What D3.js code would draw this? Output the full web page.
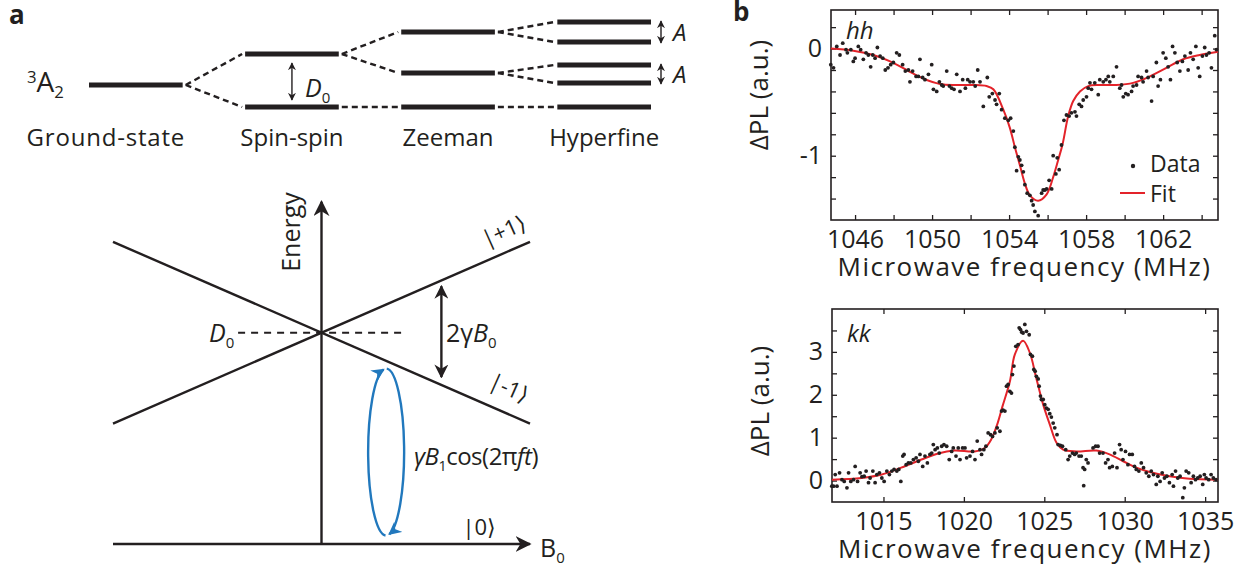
<!DOCTYPE html>
<html lang="en">
<head>
<meta charset="UTF-8">
<title>Spin levels and ODMR spectra</title>
<script src="https://d3js.org/d3.v7.min.js"></script>
<style>
  body { margin: 0; background: #fff; }
  svg text { font-family: "Open Sans", "DejaVu Sans", sans-serif; fill: #231f20; }
</style>
</head>
<body>
<div id="chart"></div>
<script>
// ---------- data: level scheme (top of panel a) ----------
const stages = ["Ground-state", "Spin-spin", "Zeeman", "Hyperfine"];
const levelEnergy = [[22], [0, 53], [0, 34, 75], [0, 24, 42, 65, 85]];
const levelParent = [[null], [0, 0], [0, 1, 1], [0, 1, 1, 2, 2]];

// ---------- data: energy vs field (bottom of panel a) ----------
const fieldRange = [-1, 1];
const plusOneE = [0.57, 1.43];   // |+1> at B=-1 and B=+1
const minusOneE = [1.43, 0.57];  // |-1>
const zeroFieldSplit = 1;        // D0
const splitArrow = {b: 0.575, e: [1.22, 0.79]};
const driveLoop = {b: 0.31, e: [0.04, 0.83]};

// ---------- data: hh spectrum ----------
const hhXDomain = [1044.75, 1064.85];
const hhYDomain = [-1.6, 0.36];
const hhXTicks = [1046, 1048, 1050, 1052, 1054, 1056, 1058, 1060, 1062, 1064];
const hhXLabels = [1046, 1050, 1054, 1058, 1062];
const hhYTicks = [-1.4, -1.2, -1, -0.8, -0.6, -0.4, -0.2, 0, 0.2];
const hhYLabels = [-1, 0];
const hhData = [
  [1044.74,-0.15],[1044.88,-0.18],[1045.05,0.02],[1045.22,-0.06],[1045.36,0.05],[1045.53,-0.01],
  [1045.60,-0.04],[1045.78,-0.01],[1045.91,-0.12],[1046.00,-0.09],[1046.17,0.02],[1046.29,-0.01],
  [1046.43,-0.10],[1046.57,-0.04],[1046.69,-0.06],[1046.81,-0.17],[1046.92,-0.06],[1047.04,-0.09],
  [1047.16,0.01],[1047.30,-0.07],[1047.44,-0.09],[1047.57,-0.20],[1047.71,-0.18],[1047.85,-0.15],
  [1047.99,-0.13],[1048.16,-0.04],[1048.30,-0.06],[1048.47,-0.15],[1048.61,-0.21],[1048.77,-0.20],
  [1048.85,-0.31],[1048.99,-0.21],[1049.17,-0.26],[1049.29,-0.26],[1049.37,-0.10],[1049.51,-0.27],
  [1049.63,-0.29],[1049.81,-0.24],[1049.98,-0.15],[1050.07,-0.38],[1050.24,-0.40],[1050.38,-0.31],
  [1050.50,-0.34],[1050.58,-0.35],[1050.76,-0.21],[1050.90,-0.35],[1051.02,-0.37],[1051.14,-0.38],
  [1051.28,-0.24],[1051.45,-0.40],[1051.59,-0.29],[1051.73,-0.37],[1051.85,-0.29],[1051.97,-0.31],
  [1052.14,-0.31],[1052.24,-0.35],[1052.37,-0.20],[1052.49,-0.31],[1052.66,-0.54],[1052.87,-0.27],
  [1052.97,-0.45],[1053.13,-0.42],[1053.27,-0.48],[1053.35,-0.52],[1053.49,-0.42],[1053.61,-0.57],
  [1053.78,-0.65],[1053.96,-0.67],[1054.08,-0.65],[1054.22,-0.77],[1054.30,-0.92],[1054.39,-1.14],
  [1054.48,-1.01],[1054.56,-1.04],[1054.65,-1.09],[1054.74,-1.15],[1054.82,-1.27],[1054.94,-1.35],
  [1055.08,-1.37],[1055.17,-1.42],[1055.25,-1.46],[1055.34,-1.52],[1055.51,-1.56],[1055.69,-1.35],
  [1055.77,-1.32],[1055.86,-1.32],[1055.95,-1.31],[1056.08,-1.23],[1056.21,-1.31],[1056.29,-1.00],
  [1056.43,-1.17],[1056.50,-1.02],[1056.60,-1.13],[1056.72,-0.90],[1056.85,-0.67],[1056.98,-0.62],
  [1057.12,-0.63],[1057.24,-0.60],[1057.42,-0.59],[1057.50,-0.63],[1057.64,-0.52],[1057.76,-0.54],
  [1057.85,-0.48],[1058.02,-0.45],[1058.11,-0.37],[1058.20,-0.32],[1058.28,-0.38],[1058.45,-0.32],
  [1058.63,-0.43],[1058.71,-0.29],[1058.89,-0.31],[1059.03,-0.29],[1059.15,-0.26],[1059.23,-0.31],
  [1059.41,-0.26],[1059.58,-0.17],[1059.75,-0.37],[1059.84,-0.34],[1059.93,-0.45],[1060.06,-0.42],
  [1060.18,-0.43],[1060.36,-0.40],[1060.44,-0.35],[1060.62,-0.34],[1060.70,-0.26],[1060.88,-0.27],
  [1060.96,-0.31],[1061.14,-0.21],[1061.22,-0.27],[1061.40,-0.49],[1061.48,-0.26],[1061.65,-0.13],
  [1061.74,-0.35],[1061.86,-0.29],[1062.00,-0.04],[1062.14,-0.09],[1062.26,-0.17],[1062.38,-0.29],
  [1062.49,0.02],[1062.61,-0.04],[1062.73,-0.13],[1062.87,-0.21],[1063.00,-0.12],[1063.13,-0.07],
  [1063.30,-0.20],[1063.42,-0.04],[1063.56,-0.10],[1063.70,0.02],[1063.82,-0.18],[1063.90,-0.26],
  [1064.04,-0.07],[1064.16,0.01],[1064.25,-0.06],[1064.39,-0.04],[1064.51,-0.18],[1064.68,0.12],
  [1064.77,-0.01]
];
const hhFit = [
  [1044.74,0],[1045.91,-0.02],[1046.95,-0.06],[1047.82,-0.12],[1048.68,-0.20],[1049.55,-0.28],
  [1050.41,-0.33],[1051.28,-0.34],[1052.14,-0.34],[1052.83,-0.35],[1053.18,-0.38],[1053.70,-0.57],
  [1054.04,-0.74],[1054.30,-0.92],[1054.56,-1.09],[1054.82,-1.26],[1055.08,-1.37],[1055.51,-1.42],
  [1055.95,-1.36],[1056.29,-1.20],[1056.55,-1.04],[1056.78,-0.89],[1057.07,-0.63],[1057.33,-0.49],
  [1057.68,-0.40],[1058.11,-0.35],[1058.71,-0.34],[1059.58,-0.34],[1060.44,-0.32],[1061.31,-0.26],
  [1062.17,-0.18],[1063.04,-0.10],[1063.90,-0.06],[1064.85,-0.03]
];

// ---------- data: kk spectrum ----------
const kkXDomain = [1011.8, 1035.8];
const kkYDomain = [-0.5, 4.0];
const kkXTicks = [1015, 1020, 1025, 1030, 1035];
const kkXLabels = [1015, 1020, 1025, 1030, 1035];
const kkYTicks = [0, 0.5, 1, 1.5, 2, 2.5, 3, 3.5];
const kkYLabels = [0, 1, 2, 3];
const kkData = [
  [1011.79,-0.13],[1011.90,-0.13],[1012.00,0.14],[1012.11,-0.13],[1012.27,0.18],[1012.42,0.02],
  [1012.56,-0.02],[1012.73,-0.17],[1012.83,0.18],[1012.97,-0.02],[1013.14,0.02],[1013.24,0.33],
  [1013.39,-0.02],[1013.55,0.18],[1013.66,0.09],[1013.80,0.10],[1013.92,0.22],[1014.07,-0.05],
  [1014.17,0.06],[1014.34,0.22],[1014.48,-0.05],[1014.59,0.14],[1014.75,0.18],[1014.90,0.06],
  [1015.04,-0.02],[1015.21,0.22],[1015.37,0.14],[1015.52,0.22],[1015.66,0.26],[1015.83,0.22],
  [1015.95,0.26],[1016.08,-0.02],[1016.20,0.57],[1016.28,0.61],[1016.41,0.37],[1016.55,0.41],
  [1016.70,0.41],[1016.86,0.49],[1017.03,0.53],[1017.17,0.45],[1017.27,0.61],[1017.44,0.33],
  [1017.58,0.57],[1017.73,0.41],[1017.89,0.61],[1018.00,0.64],[1018.10,0.84],[1018.21,0.72],
  [1018.35,0.76],[1018.47,0.64],[1018.62,0.80],[1018.76,0.84],[1018.93,0.80],[1019.09,0.49],
  [1019.24,0.68],[1019.34,0.76],[1019.51,0.57],[1019.65,0.76],[1019.76,0.49],[1019.92,0.76],
  [1020.07,0.76],[1020.17,0.53],[1020.38,0.57],[1020.54,0.68],[1020.69,0.49],[1020.83,0.92],
  [1021.00,0.72],[1021.10,0.61],[1021.24,0.72],[1021.37,0.80],[1021.51,1.11],[1021.66,1.07],
  [1021.78,1.03],[1021.93,1.11],[1022.07,1.23],[1022.24,1.15],[1022.34,1.62],[1022.44,1.64],
  [1022.55,1.62],[1022.65,2.20],[1022.75,2.24],[1022.86,2.08],[1022.96,2.04],[1023.02,2.47],
  [1023.11,2.67],[1023.23,3.13],[1023.37,3.17],[1023.44,3.56],[1023.52,3.52],[1023.60,3.46],
  [1023.68,3.44],[1023.79,3.64],[1023.89,3.48],[1024.06,3.40],[1024.14,2.94],[1024.26,2.90],
  [1024.35,2.59],[1024.43,2.55],[1024.51,2.43],[1024.62,2.37],[1024.68,2.20],[1024.76,1.97],
  [1024.82,1.89],[1024.93,1.89],[1025.03,1.77],[1025.13,1.69],[1025.24,1.66],[1025.34,1.56],
  [1025.44,1.48],[1025.55,1.34],[1025.65,1.23],[1025.79,1.07],[1025.86,0.84],[1026.00,0.82],
  [1026.13,0.80],[1026.33,0.72],[1026.48,0.49],[1026.58,0.57],[1026.75,0.64],[1026.89,0.61],
  [1026.99,0.64],[1027.16,0.57],[1027.30,0.57],[1027.41,0.30],[1027.45,-0.12],[1027.51,0.26],
  [1027.61,0.49],[1027.72,0.41],[1028.03,0.76],[1028.19,0.80],[1028.34,0.80],[1028.44,0.64],
  [1028.65,0.64],[1028.81,0.41],[1028.96,0.49],[1029.06,0.30],[1029.23,0.33],[1029.37,0.64],
  [1029.52,0.30],[1029.68,0.84],[1029.78,0.72],[1029.89,0.49],[1030.05,0.68],[1030.20,0.37],
  [1030.30,0.61],[1030.47,0.61],[1030.61,0.33],[1030.72,0.26],[1030.88,0.22],[1031.03,0.41],
  [1031.17,0.30],[1031.34,0.18],[1031.50,0.10],[1031.65,0.22],[1031.79,0.14],[1031.96,-0.09],
  [1032.06,0.10],[1032.20,-0.02],[1032.33,0.18],[1032.47,0.06],[1032.62,0.10],[1032.78,-0.05],
  [1032.95,0.14],[1033.03,-0.13],[1033.16,0.22],[1033.30,0.06],[1033.44,0.10],[1033.61,-0.40],
  [1033.71,-0.17],[1033.82,0.22],[1033.98,0.18],[1034.13,-0.05],[1034.27,0.10],[1034.40,0.02],
  [1034.54,0.06],[1034.69,0.10],[1034.85,-0.09],[1034.95,0.14],[1035.06,0.06],[1035.22,0.02],
  [1035.37,0.14],[1035.51,0.06],[1035.68,0.02]
];
const kkFit = [
  [1011.8,0.02],[1013.64,0.06],[1014.9,0.14],[1016.1,0.30],[1017.36,0.49],[1018.4,0.63],
  [1019.4,0.70],[1020.67,0.68],[1021.3,0.76],[1021.7,0.96],[1022.1,1.34],[1022.4,1.73],
  [1022.86,2.31],[1023.17,2.94],[1023.68,3.26],[1024.1,2.98],[1024.5,2.39],[1024.93,1.77],
  [1025.34,1.31],[1025.76,0.88],[1026.17,0.72],[1027.0,0.68],[1028.24,0.70],[1029.06,0.61],
  [1029.9,0.45],[1030.72,0.30],[1031.55,0.20],[1032.79,0.10],[1034.03,0.04],[1035.8,0.02]
];

// ---------- drawing ----------
const ink = "#231f20", red = "#e3232a", blue = "#2178bd";
const svg = d3.select("#chart").append("svg").attr("width", 1251).attr("height", 567);

const defs = svg.append("defs");
function marker(id, size, color) {
  defs.append("marker")
    .attr("id", id).attr("viewBox", "0 0 10 10")
    .attr("refX", 9).attr("refY", 5)
    .attr("markerWidth", size).attr("markerHeight", size)
    .attr("markerUnits", "userSpaceOnUse")
    .attr("orient", "auto-start-reverse")
    .append("path").attr("d", "M0,0 L10,5 L0,10 L3,5 Z").attr("fill", color);
}
marker("headSmall", 8, ink);
marker("headMid", 14, ink);
marker("headAxis", 16, ink);
marker("headBlue", 13, blue);

// text with optional sub/superscripts: parts = [text, {italic, sub, sup}]
function richText(parent, x, y, size, parts, anchor) {
  const t = parent.append("text").attr("x", x).attr("y", y)
    .attr("font-size", size).attr("text-anchor", anchor || "start");
  let shift = 0;
  parts.forEach(([s, o]) => {
    o = o || {};
    const target = o.sub ? 6 : o.sup ? -9 : 0;
    t.append("tspan")
      .attr("dy", target - shift)
      .attr("font-size", o.sub || o.sup ? size * 0.6 : size)
      .attr("font-style", o.italic ? "italic" : "normal")
      .text(s);
    shift = target;
  });
  return t;
}

// panel letters
svg.append("text").attr("x", 9).attr("y", 24).attr("font-size", 26).attr("font-weight", "bold").text("a");
svg.append("text").attr("x", 733).attr("y", 21).attr("font-size", 26).attr("font-weight", "bold").text("b");

// ---- level scheme ----
const xS = d3.scaleBand().domain(stages).range([89, 651]).paddingInner(0.4);
const yE = d3.scaleLinear().domain([0, 85]).range([107, 22]);
const bw = xS.bandwidth();
const scheme = svg.append("g");

stages.forEach((s, i) => {
  levelEnergy[i].forEach((e, j) => {
    scheme.append("line")
      .attr("x1", xS(s)).attr("x2", xS(s) + bw)
      .attr("y1", yE(e)).attr("y2", yE(e))
      .attr("stroke", ink).attr("stroke-width", 5);
    const p = levelParent[i][j];
    if (p !== null) {
      const prev = stages[i - 1];
      scheme.append("line")
        .attr("x1", xS(prev) + bw + 3).attr("y1", yE(levelEnergy[i - 1][p]))
        .attr("x2", xS(s) - 3).attr("y2", yE(e))
        .attr("stroke", ink).attr("stroke-width", 2.4)
        .attr("stroke-dasharray", "6,4");
    }
  });
  scheme.append("text")
    .attr("x", xS(s) + bw / 2 - (i === 0 ? 30 : 0)).attr("y", 146)
    .attr("font-size", 24).attr("text-anchor", "middle")
    .attr("letter-spacing", i === 0 ? 0.8 : 0).text(s);
});

richText(scheme, 27, 92, 28, [["3", {sup: true}], ["A"], ["2", {sub: true}]]);

// D0 arrow between spin-spin levels
const ssX = xS("Spin-spin") + bw / 2;
scheme.append("line")
  .attr("x1", ssX).attr("x2", ssX)
  .attr("y1", yE(53) + 9).attr("y2", yE(0) - 7)
  .attr("stroke", ink).attr("stroke-width", 1.4)
  .attr("marker-start", "url(#headSmall)").attr("marker-end", "url(#headSmall)");
richText(scheme, ssX + 13, 97, 25, [["D", {italic: true}], ["0", {sub: true}]]);

// hyperfine splitting arrows
const hfX = xS("Hyperfine") + bw + 10;
[[24, 42], [65, 85]].forEach(([lo, hi]) => {
  scheme.append("line")
    .attr("x1", hfX).attr("x2", hfX)
    .attr("y1", yE(hi) - 1).attr("y2", yE(lo) + 1)
    .attr("stroke", ink).attr("stroke-width", 1.4)
    .attr("marker-start", "url(#headSmall)").attr("marker-end", "url(#headSmall)");
  scheme.append("text").attr("x", hfX + 12).attr("y", (yE(hi) + yE(lo)) / 2 + 9)
    .attr("font-size", 24).attr("font-style", "italic").text("A");
});

// ---- energy vs field ----
const xB = d3.scaleLinear().domain(fieldRange).range([113, 530]);
const yN = d3.scaleLinear().domain([0, zeroFieldSplit]).range([544, 332.7]);
const en = svg.append("g");

[plusOneE, minusOneE].forEach(e => {
  en.append("line")
    .attr("x1", xB(fieldRange[0])).attr("y1", yN(e[0]))
    .attr("x2", xB(fieldRange[1])).attr("y2", yN(e[1]))
    .attr("stroke", ink).attr("stroke-width", 2.4);
});
// axes
en.append("line").attr("x1", xB(0)).attr("x2", xB(0)).attr("y1", yN(0)).attr("y2", yN(1.62))
  .attr("stroke", ink).attr("stroke-width", 2.4).attr("marker-end", "url(#headAxis)");
en.append("line").attr("x1", xB(-1)).attr("x2", xB(1)).attr("y1", yN(0)).attr("y2", yN(0))
  .attr("stroke", ink).attr("stroke-width", 2.4).attr("marker-end", "url(#headAxis)");
// D0 dashed
en.append("line").attr("x1", xB(-0.4)).attr("x2", xB(0.4))
  .attr("y1", yN(zeroFieldSplit)).attr("y2", yN(zeroFieldSplit))
  .attr("stroke", ink).attr("stroke-width", 2).attr("stroke-dasharray", "7,6");
// 2 gamma B0 arrow
en.append("line").attr("x1", xB(splitArrow.b)).attr("x2", xB(splitArrow.b))
  .attr("y1", yN(splitArrow.e[0])).attr("y2", yN(splitArrow.e[1]))
  .attr("stroke", ink).attr("stroke-width", 2.4)
  .attr("marker-start", "url(#headMid)").attr("marker-end", "url(#headMid)");

// driving loop
const cx = xB(driveLoop.b), cy = (yN(driveLoop.e[0]) + yN(driveLoop.e[1])) / 2;
const ry = (yN(driveLoop.e[0]) - yN(driveLoop.e[1])) / 2, rx = 18;
const pt = a => [cx + rx * Math.cos(a * Math.PI / 180), cy + ry * Math.sin(a * Math.PI / 180)];
const arc = (a0, a1) => {
  const p0 = pt(a0), p1 = pt(a1);
  return `M${p0[0]},${p0[1]} A${rx},${ry} 0 0 1 ${p1[0]},${p1[1]}`;
};
en.append("path").attr("d", arc(92, 262)).attr("fill", "none").attr("stroke", blue)
  .attr("stroke-width", 2.4).attr("marker-end", "url(#headBlue)");
en.append("path").attr("d", arc(272, 440)).attr("fill", "none").attr("stroke", blue)
  .attr("stroke-width", 2.4).attr("marker-end", "url(#headBlue)");

// labels
en.append("text").attr("font-size", 25).attr("text-anchor", "middle")
  .attr("transform", `translate(${xB(0) - 22},232) rotate(-90)`).text("Energy");
richText(en, 540, 557, 25, [["B"], ["0", {sub: true}]]);
richText(en, 209, 342, 25, [["D", {italic: true}], ["0", {sub: true}]]);
richText(en, 446, 342, 25, [["2γ"], ["B", {italic: true}], ["0", {sub: true}]]);
richText(en, 414, 465, 24, [["γB", {italic: true}], ["1", {sub: true}], ["cos(2π"], ["ft", {italic: true}], [")"]])
  .attr("letter-spacing", -0.5);
en.append("text").attr("font-size", 22).attr("text-anchor", "middle")
  .attr("transform", `translate(507,238) rotate(-24)`).text("|+1⟩");
en.append("text").attr("font-size", 22).attr("text-anchor", "middle")
  .attr("transform", `translate(506,395) rotate(24)`).text("|-1⟩");
en.append("text").attr("font-size", 22).attr("text-anchor", "middle")
  .attr("x", 479).attr("y", 535).text("|0⟩");

// ---- spectra ----
function spectrum(c) {
  const x = d3.scaleLinear().domain(c.xDomain).range([c.x0, c.x1]);
  const y = d3.scaleLinear().domain(c.yDomain).range([c.y1, c.y0]);
  const g = svg.append("g");
  const fmt = labels => d => labels.includes(d) ? String(d) : "";

  g.append("g").attr("transform", `translate(0,${c.y1})`)
    .call(d3.axisBottom(x).tickValues(c.xTicks).tickSize(-5).tickPadding(10).tickFormat(fmt(c.xLabels)));
  g.append("g").attr("transform", `translate(0,${c.y0})`)
    .call(d3.axisTop(x).tickValues(c.xTicks).tickSize(-5).tickFormat(""));
  g.append("g").attr("transform", `translate(${c.x0},0)`)
    .call(d3.axisLeft(y).tickValues(c.yTicks).tickSize(-5).tickPadding(9).tickFormat(fmt(c.yLabels)));
  g.append("g").attr("transform", `translate(${c.x1},0)`)
    .call(d3.axisRight(y).tickValues(c.yTicks).tickSize(-5).tickFormat(""));
  g.selectAll(".domain").remove();
  g.selectAll(".tick line").attr("stroke", ink).attr("stroke-width", 1.3);
  g.selectAll(".tick text").attr("font-size", 25).attr("fill", ink)
    .style("font-family", '"Open Sans", sans-serif');

  g.append("rect").attr("x", c.x0).attr("y", c.y0)
    .attr("width", c.x1 - c.x0).attr("height", c.y1 - c.y0)
    .attr("fill", "none").attr("stroke", ink).attr("stroke-width", 1.6);

  g.append("path").datum(c.fit)
    .attr("d", d3.line().x(d => x(d[0])).y(d => y(d[1])).curve(d3.curveCatmullRom.alpha(0.5)))
    .attr("fill", "none").attr("stroke", red).attr("stroke-width", 2);

  g.selectAll("circle.pt").data(c.data).join("circle")
    .attr("class", "pt").attr("cx", d => x(d[0])).attr("cy", d => y(d[1]))
    .attr("r", 1.9).attr("fill", ink);

  g.append("text").attr("x", c.x0 + 15).attr("y", c.y0 + c.tagDy)
    .attr("font-size", 24).attr("font-style", "italic").text(c.tag);
  g.append("text").attr("x", (c.x0 + c.x1) / 2).attr("y", c.y1 + 56)
    .attr("font-size", 26).attr("letter-spacing", 1.5)
    .attr("text-anchor", "middle").text("Microwave frequency (MHz)");
  g.append("text").attr("font-size", 26).attr("text-anchor", "middle")
    .attr("transform", `translate(${c.x0 - 63},${c.labelY}) rotate(-90)`).text("ΔPL (a.u.)");
  return g;
}

const hh = spectrum({
  x0: 831, x1: 1218, y0: 10, y1: 220,
  xDomain: hhXDomain, yDomain: hhYDomain, xTicks: hhXTicks, xLabels: hhXLabels,
  yTicks: hhYTicks, yLabels: hhYLabels, data: hhData, fit: hhFit,
  tag: "hh", tagDy: 29, labelY: 95
});
spectrum({
  x0: 832, x1: 1218, y0: 309, y1: 502,
  xDomain: kkXDomain, yDomain: kkYDomain, xTicks: kkXTicks, xLabels: kkXLabels,
  yTicks: kkYTicks, yLabels: kkYLabels, data: kkData, fit: kkFit,
  tag: "kk", tagDy: 33, labelY: 401
});

// legend (inside hh panel)
hh.append("circle").attr("cx", 1133).attr("cy", 166).attr("r", 2.2).attr("fill", ink);
hh.append("text").attr("x", 1150).attr("y", 172).attr("font-size", 23).text("Data");
hh.append("line").attr("x1", 1120).attr("x2", 1145).attr("y1", 193).attr("y2", 193)
  .attr("stroke", red).attr("stroke-width", 2);
hh.append("text").attr("x", 1150).attr("y", 202).attr("font-size", 23).text("Fit");
</script>
</body>
</html>
